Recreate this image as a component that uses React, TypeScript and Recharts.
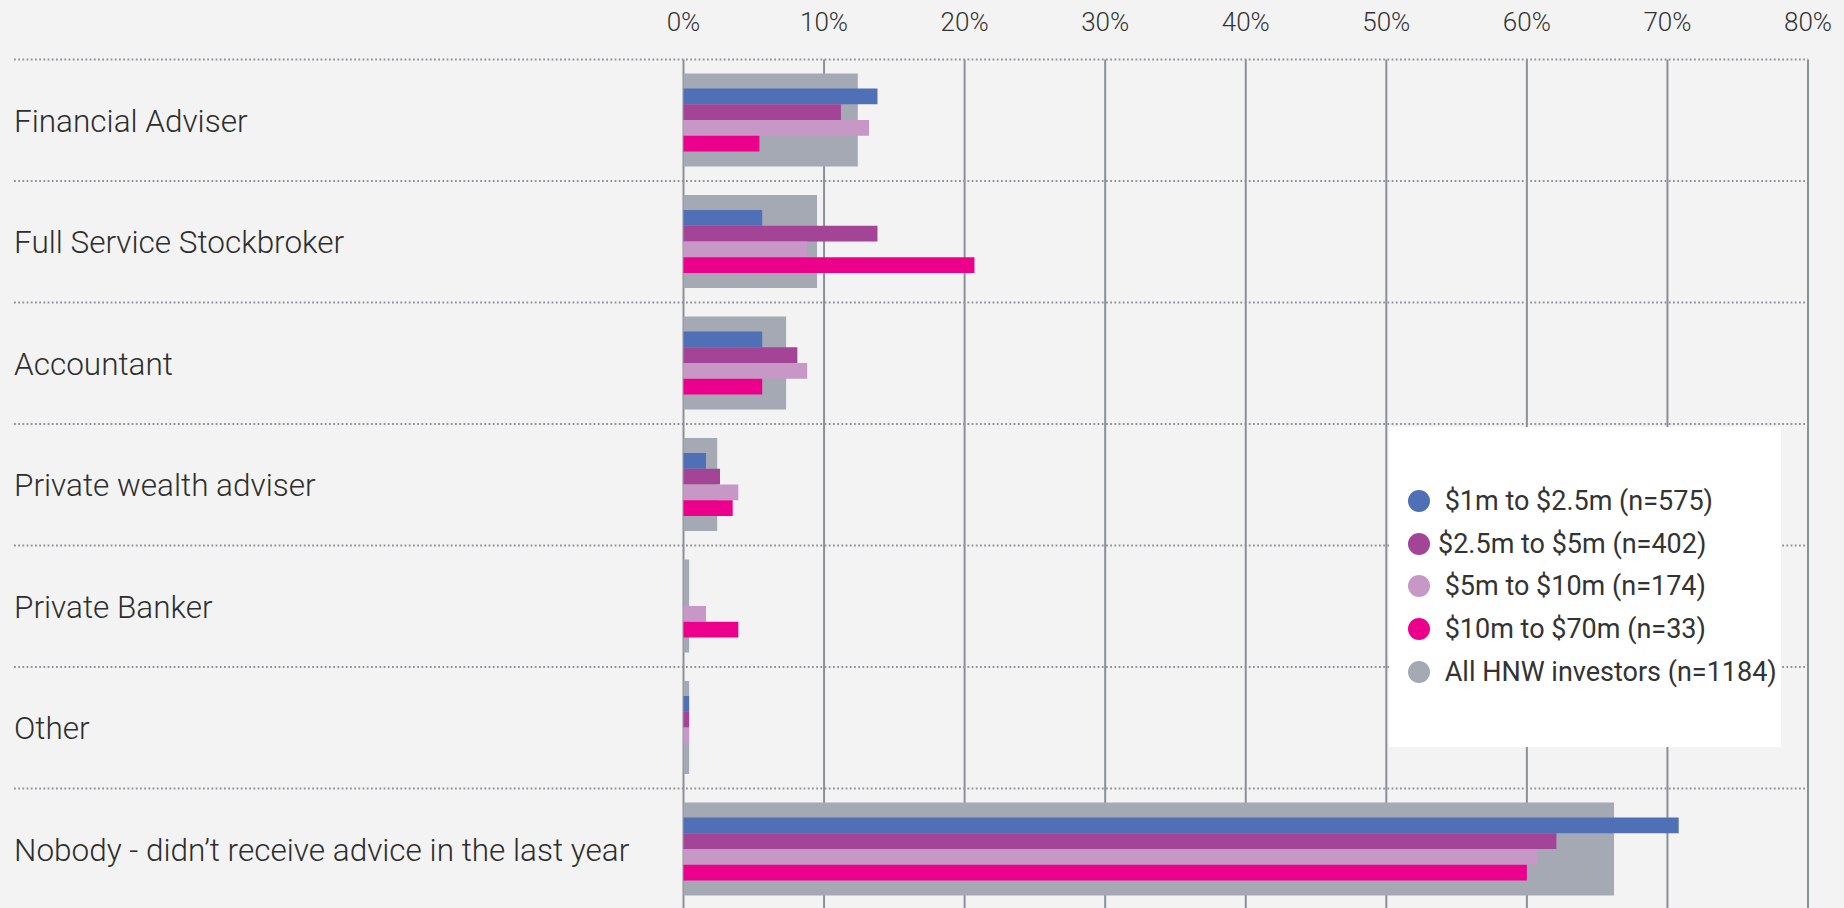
import React from 'react';
import { BarChart, Bar, XAxis, YAxis, CartesianGrid } from 'recharts';

const categories = [
  'Financial Adviser',
  'Full Service Stockbroker',
  'Accountant',
  'Private wealth adviser',
  'Private Banker',
  'Other',
  'Nobody - didn\u2019t receive advice in the last year',
];

const seriesNames = [
  ' $1m to $2.5m (n=575)',
  '$2.5m to $5m (n=402)',
  ' $5m to $10m (n=174)',
  ' $10m to $70m (n=33)',
  ' All HNW investors (n=1184)',
];

const band1to25 = [13.8, 5.6, 5.6, 1.6, 0, 0.4, 70.8];
const band25to5 = [11.2, 13.8, 8.1, 2.6, 0, 0.4, 62.1];
const band5to10 = [13.2, 8.8, 8.8, 3.9, 1.6, 0.4, 60.7];
const band10to70 = [5.4, 20.7, 5.6, 3.5, 3.9, 0, 60.0];
const allHnw = [12.4, 9.5, 7.3, 2.4, 0.4, 0.4, 66.2];

const xTicks = [0, 10, 20, 30, 40, 50, 60, 70, 80];

const colors = ['#4f70b6', '#a44496', '#c798c5', '#ec008b', '#a5a9b4'];

const data = categories.map((name, i) => ({
  name,
  s1: band1to25[i],
  s2: band25to5[i],
  s3: band5to10[i],
  s4: band10to70[i],
  all: allHnw[i],
}));

// layout constants
const CHART_W = 1844;
const CHART_H = 910;
const TOP_AXIS_H = 59.5;
const LEFT_W = 683.5;
const RIGHT_M = 36;
const PLOT_RIGHT = CHART_W - RIGHT_M;
const BAND = (CHART_H - TOP_AXIS_H) / categories.length;
const LABEL_X = 14;
const FONT = 'Roboto, "Noto Sans", sans-serif';

const CatTick = (props: any) => {
  const { y, payload, index } = props;
  const top = y - BAND / 2;
  return (
    <g>
      <line x1={LABEL_X} x2={PLOT_RIGHT} y1={top} y2={top} stroke="#8f939b" strokeWidth={1.8} strokeDasharray="1.8 2.4" />
      {index === categories.length - 1 && (
        <line x1={LABEL_X} x2={PLOT_RIGHT} y1={top + BAND} y2={top + BAND} stroke="#8f939b" strokeWidth={1.8} strokeDasharray="1.8 2.4" />
      )}
      <text x={LABEL_X} y={y} dy="0.36em" textAnchor="start" fontFamily={FONT} fontWeight={300} fontSize={31.5} fill="#2e2e2e">
        {payload.value}
      </text>
    </g>
  );
};

const XTick = (props: any) => {
  const { x, payload } = props;
  return (
    <text x={x} y={31} textAnchor="middle" fontFamily={FONT} fontWeight={300} fontSize={26} fill="#333">
      {`${payload.value}%`}
    </text>
  );
};

const LegendBox = () => {
  const order = [0, 1, 2, 3, 4];
  return (
    <div
      style={{
        position: 'absolute',
        left: 1389,
        top: 427,
        width: 392,
        height: 320,
        background: '#ffffff',
        boxSizing: 'border-box',
        paddingTop: 53,
        paddingLeft: 19,
        fontFamily: FONT,
        fontSize: 27,
        color: '#333',
      }}
    >
      {order.map((i) => (
        <div key={i} style={{ display: 'flex', alignItems: 'center', height: 42.6 }}>
          <span
            style={{
              display: 'inline-block',
              width: 22,
              height: 22,
              borderRadius: '50%',
              background: colors[i],
              marginRight: 8,
              flexShrink: 0,
            }}
          />
          <span style={{ whiteSpace: 'pre', lineHeight: '42px' }}>{seriesNames[i]}</span>
        </div>
      ))}
    </div>
  );
};

export default function App() {
  return (
    <div
      style={{
        position: 'absolute',
        left: 0,
        top: 0,
        width: 1844,
        height: 908,
        background: '#f3f3f3',
        overflow: 'hidden',
      }}
    >
      <BarChart
        width={CHART_W}
        height={CHART_H}
        data={data}
        layout="vertical"
        margin={{ top: 0, right: RIGHT_M, bottom: 0, left: 0 }}
        barGap={0}
      >
        <CartesianGrid horizontal={false} vertical stroke="#8b8f97" strokeWidth={2} yAxisId="front" />
        <XAxis
          type="number"
          domain={[0, 80]}
          ticks={xTicks}
          interval={0}
          orientation="top"
          height={TOP_AXIS_H}
          axisLine={false}
          tickLine={false}
          tick={(p: any) => <XTick {...p} />}
        />
        <YAxis
          yAxisId="front"
          type="category"
          dataKey="name"
          width={LEFT_W}
          axisLine={false}
          tickLine={false}
          interval={0}
          tick={(p: any) => <CatTick {...p} />}
        />
        <YAxis yAxisId="back" type="category" dataKey="name" hide />
        <Bar yAxisId="back" dataKey="all" name={seriesNames[4]} fill={colors[4]} barSize={93} isAnimationActive={false} />
        <Bar yAxisId="front" dataKey="s1" name={seriesNames[0]} fill={colors[0]} barSize={15.75} isAnimationActive={false} />
        <Bar yAxisId="front" dataKey="s2" name={seriesNames[1]} fill={colors[1]} barSize={15.75} isAnimationActive={false} />
        <Bar yAxisId="front" dataKey="s3" name={seriesNames[2]} fill={colors[2]} barSize={15.75} isAnimationActive={false} />
        <Bar yAxisId="front" dataKey="s4" name={seriesNames[3]} fill={colors[3]} barSize={15.75} isAnimationActive={false} />
      </BarChart>
      <LegendBox />
    </div>
  );
}
